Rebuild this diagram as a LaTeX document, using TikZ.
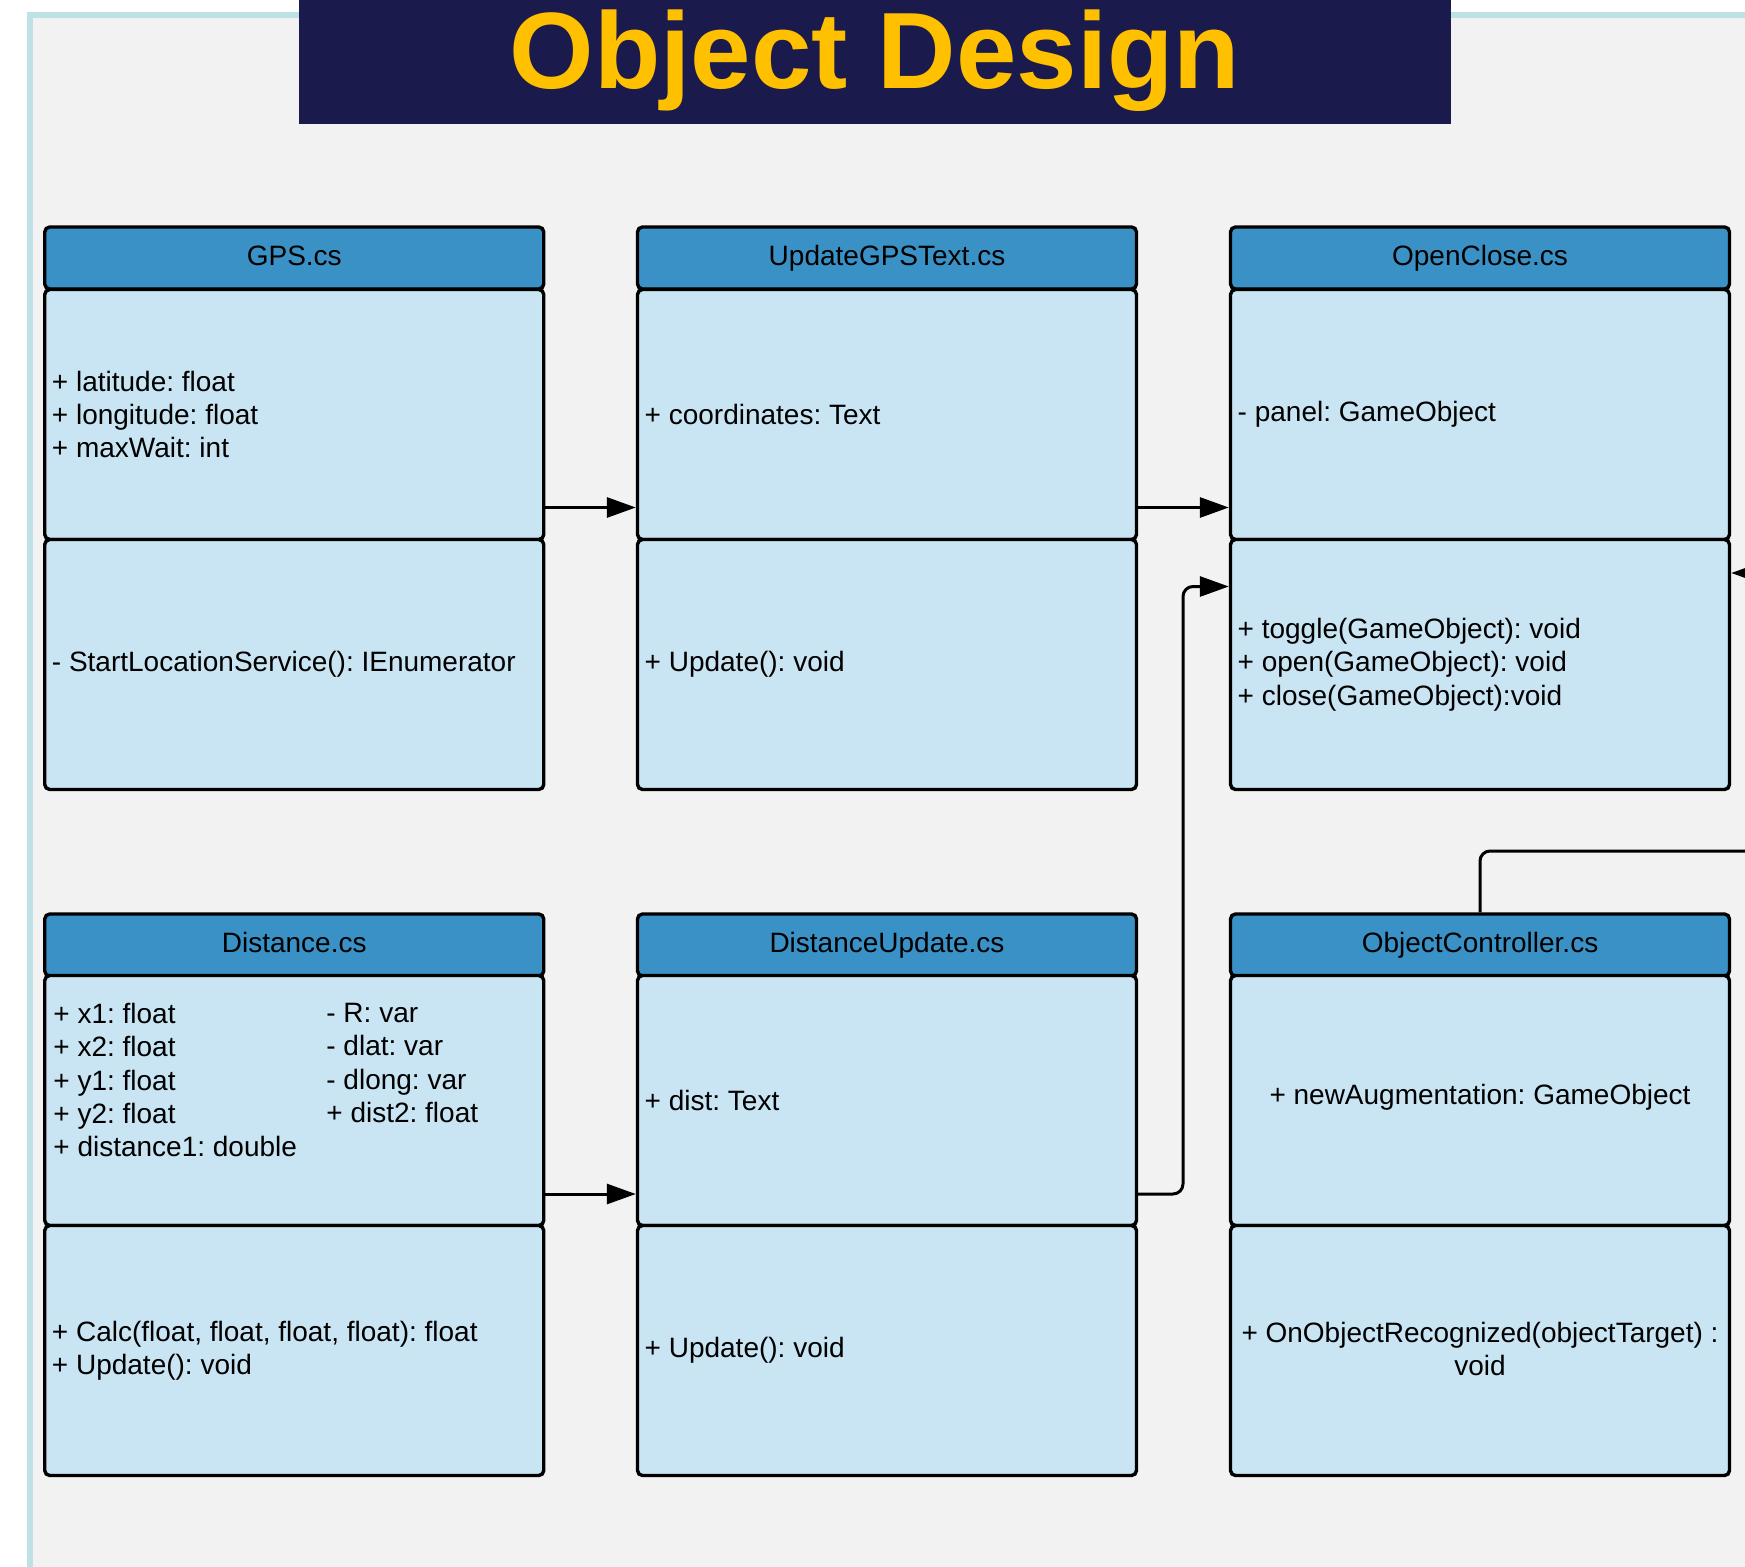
\documentclass[tikz,border=0pt]{standalone}
\usepackage{fontspec}
\setmainfont{Liberation Sans}
\usetikzlibrary{arrows.meta}
\definecolor{navy}{HTML}{1B1A4D}
\definecolor{gold}{HTML}{FFC000}
\definecolor{bggray}{HTML}{F2F2F2}
\definecolor{framecol}{HTML}{BDE1E4}
\definecolor{hdrblue}{HTML}{3A91C6}
\definecolor{bodyblue}{HTML}{C9E4F2}
\frenchspacing
\begin{document}
\begin{tikzpicture}[x=0.5pt,y=-0.5pt,
  hdr/.style={draw, line width=1.7pt, rounded corners=2.5pt, fill=hdrblue,
    minimum width=249.5pt, minimum height=31pt, inner sep=0pt,
    text height=10.5pt, text depth=3pt,
    font=\fontsize{14}{16.7}\selectfont},
  sec/.style={draw, line width=1.7pt, rounded corners=2.5pt, fill=bodyblue,
    minimum width=249.5pt, minimum height=125pt, inner sep=0pt},
  txt/.style={anchor=west, align=left, inner sep=0pt,
    font=\fontsize{14}{16.7}\selectfont},
  ctxt/.style={align=center, inner sep=0pt,
    font=\fontsize{14}{16.7}\selectfont},
  arr/.style={line width=1.5pt, -{Triangle[length=14.5pt,width=10pt]}}
]
\useasboundingbox (0,0) rectangle (1745,1567);
\fill[white] (0,0) rectangle (1745,1567);
\fill[bggray] (30,15.5) rectangle (1745,1567);
\draw[framecol, line width=3pt] (30,1567) -- (30,15.5) -- (1745,15.5);

% title
\node[fill=navy, minimum width=576pt, minimum height=62pt, inner sep=0pt] (titlebox) at (875,62) {};
\node[anchor=base, text=gold, inner sep=0pt, font=\fontsize{54.3}{60}\selectfont\bfseries] (titletext) at (875,89) {Object Design};

% ---- row 1 ----
\node[hdr] (gpsH) at (294.25,258) {GPS.cs};
\node[sec] (gpsA) at (294.25,414.5) {};
\node[sec] (gpsO) at (294.25,664.5) {};
\node[txt] (gpsAt) at ([xshift=4.25pt]gpsA.west) {+ latitude: float\\+ longitude: float\\+ maxWait: int};
\node[txt] (gpsOt) at ([xshift=4.25pt]gpsO.west) {- StartLocationService(): IEnumerator};

\node[hdr] (ugH) at (887,258) {UpdateGPSText.cs};
\node[sec] (ugA) at (887,414.5) {};
\node[sec] (ugO) at (887,664.5) {};
\node[txt] (ugAt) at ([xshift=4.25pt]ugA.west) {+ coordinates: Text};
\node[txt] (ugOt) at ([xshift=4.25pt]ugO.west) {+ Update(): void};

\node[hdr] (ocH) at (1480,258) {OpenClose.cs};
\node[sec] (ocA) at (1480,414.5) {};
\node[sec] (ocO) at (1480,664.5) {};
\node[txt] (ocAt) at ([xshift=4.25pt]ocA.west) {- panel: GameObject};
\node[txt] (ocOt) at ([xshift=4.25pt]ocO.west) {+ toggle(GameObject): void\\+ open(GameObject): void\\+ close(GameObject):void};

% ---- row 2 ----
\node[hdr] (distH) at (294.25,945) {Distance.cs};
\node[sec] (distA) at (294.25,1100.5) {};
\node[sec] (distO) at (294.25,1350.5) {};
\node[txt] (distAt1) at (53,1080) {+ x1: float\\+ x2: float\\+ y1: float\\+ y2: float\\+ distance1: double};
\node[txt] (distAt2) at (326,1063) {- R: var\\- dlat: var\\- dlong: var\\+ dist2: float};
\node[txt] (distOt) at ([xshift=4.25pt]distO.west) {+ Calc(float, float, float, float): float\\+ Update(): void};

\node[hdr] (duH) at (887,945) {DistanceUpdate.cs};
\node[sec] (duA) at (887,1100.5) {};
\node[sec] (duO) at (887,1350.5) {};
\node[txt] (duAt) at ([xshift=4.25pt]duA.west) {+ dist: Text};
\node[txt] (duOt) at ([xshift=4.25pt]duO.west) {+ Update(): void};

\node[hdr] (objH) at (1480,945) {ObjectController.cs};
\node[sec] (objA) at (1480,1100.5) {};
\node[sec] (objO) at (1480,1350.5) {};
\node[ctxt] (objAt) at (1480,1097) {+ newAugmentation: GameObject};
\node[ctxt] (objOt) at (1480,1349) {+ OnObjectRecognized(objectTarget) :\\void};

% ---- connectors ----
\coordinate (yTop) at (0,507.5);
\coordinate (yBot) at (0,1194);
\coordinate (yIn) at (0,586.5);
\coordinate (yRight) at (0,573);
\coordinate (xBend) at (1183,0);
\coordinate (yOC) at (0,851);
\coordinate (offR) at (1800,851);
\coordinate (offR2) at (1800,573);

\draw[arr] (gpsA.east |- yTop) -- (ugA.west |- yTop);
\draw[arr] (ugA.east |- yTop) -- (ocA.west |- yTop);
\draw[arr] (distA.east |- yBot) -- (duA.west |- yBot);
\draw[arr, rounded corners=5pt] (duA.east |- yBot) -- (xBend |- yBot) -- (xBend |- yIn) -- (ocO.west |- yIn);
\begin{scope}
\clip (0,0) rectangle (1745,1567);
\draw[arr, rounded corners=5pt] (objH.north) -- (objH.north |- yOC) -- (offR) -- (offR2) -- (ocO.east |- yRight);
\end{scope}
\end{tikzpicture}
\end{document}
